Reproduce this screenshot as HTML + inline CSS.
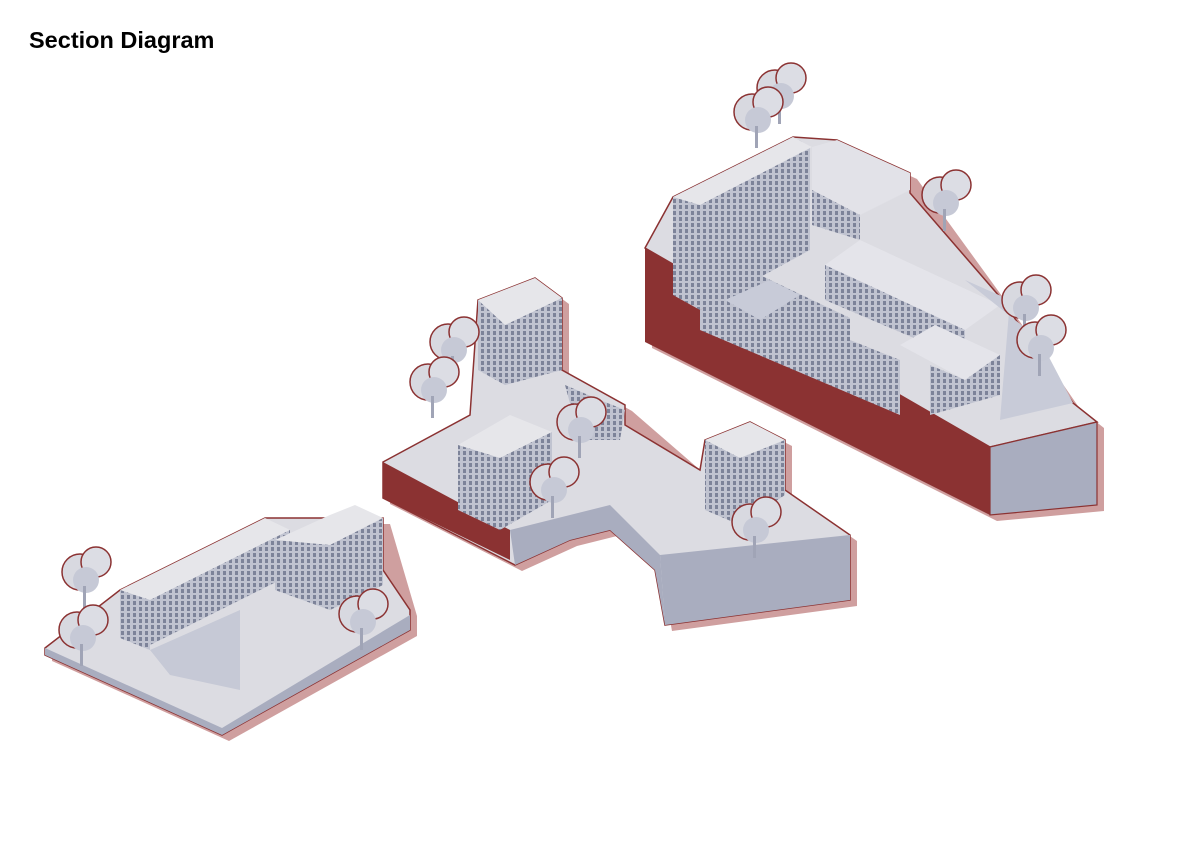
<!DOCTYPE html>
<html><head><meta charset="utf-8"><style>
body{margin:0;background:#fff;width:1191px;height:842px;overflow:hidden}
h1{position:absolute;left:29px;top:27px;margin:0;font:bold 23.5px "Liberation Sans",sans-serif;color:#000}
svg{position:absolute;left:0;top:0}
</style></head><body>
<h1>Section Diagram</h1>
<svg width="1191" height="842" viewBox="0 0 1191 842">
<defs>
<pattern id="win" width="6" height="6" patternUnits="userSpaceOnUse"><rect width="6" height="6" fill="#c0c3d0"/><rect x="1" y="1" width="3" height="4" fill="#7d8399"/></pattern>
<g id="tree"><circle cx="0" cy="0" r="18" fill="#d8d9e0" stroke="#8b3232" stroke-width="1.5"/><circle cx="16" cy="-10" r="15" fill="#dcdde4" stroke="#8b3232" stroke-width="1.5"/><circle cx="6" cy="8" r="13" fill="#c6c9d6"/><rect x="3" y="14" width="3" height="22" fill="#a0a4b6"/></g>
</defs>
<g fill="#cf9f9f" transform="translate(7,6)">
<polygon points="45,648 120,590 265,518 383,518 410,610 410,630 222,735 45,655"/>
<polygon points="383,462 470,415 478,300 535,278 562,298 562,370 625,405 700,470 750,422 785,440 785,490 850,535 850,600 665,625 655,570 610,530 570,540 515,565 383,498"/>
<polygon points="645,248 673,197 793,137 837,140 910,173 1000,297 1073,403 1097,422 1097,505 990,515 645,342"/>
</g>
<polygon points="645,248 673,197 793,137 837,140 910,173 910,193 1000,297 1073,403 1097,422 990,447 645,248" fill="#dcdce2" stroke="#8b3232" stroke-width="1.5"/>
<polygon points="645,248 990,447 990,515 645,342" fill="#8b3232"/>
<polygon points="990,447 1097,422 1097,505 990,515" fill="#a9adbf" stroke="#8b3232" stroke-width="1.2"/>
<polygon points="673,197 793,137 810,146 810,250 700,310 673,295" fill="url(#win)"/>
<polygon points="673,197 793,137 812,147 700,205" fill="#e6e6ea"/>
<polygon points="812,147 837,140 910,173 910,190 860,215 812,190" fill="#e2e2e8"/>
<polygon points="812,190 860,215 860,240 812,225" fill="url(#win)"/>
<polygon points="700,310 760,275 850,318 850,340 900,360 900,415 700,330" fill="url(#win)"/>
<polygon points="725,300 770,280 800,295 760,320" fill="#c8cbd8"/>
<polygon points="825,265 860,240 1000,305 965,330" fill="#e4e4ea"/>
<polygon points="825,265 965,330 965,360 825,300" fill="url(#win)"/>
<polygon points="900,345 935,325 1000,355 965,380" fill="#e4e4ea"/>
<polygon points="930,365 965,380 1000,355 1000,395 930,415" fill="url(#win)"/>
<polygon points="965,280 1040,340 1073,403 1000,420 1010,300" fill="#c8cbd8"/>
<use href="#tree" x="775" y="88"/><use href="#tree" x="752" y="112"/><use href="#tree" x="940" y="195"/><use href="#tree" x="1020" y="300"/><use href="#tree" x="1035" y="340"/>
<polygon points="383,462 470,415 478,300 535,278 562,298 562,370 625,405 625,425 700,470 705,440 750,422 785,440 785,490 850,535 850,600 665,625 655,570 610,530 570,540 515,565 383,498" fill="#dcdce2" stroke="#8b3232" stroke-width="1.5"/>
<polygon points="383,462 510,530 510,560 383,498" fill="#8b3232"/>
<polygon points="510,530 570,515 610,505 660,555 665,625 655,570 610,530 570,540 515,565" fill="#a9adbf"/>
<polygon points="660,555 850,535 850,600 665,625" fill="#a9adbf"/>
<polygon points="478,300 535,278 562,298 505,325" fill="#e6e6ea"/>
<polygon points="478,300 505,325 505,385 478,370" fill="url(#win)"/>
<polygon points="505,325 562,298 562,370 505,385" fill="url(#win)"/>
<polygon points="458,445 510,415 552,432 500,458" fill="#e6e6ea"/>
<polygon points="458,445 500,458 500,530 458,510" fill="url(#win)"/>
<polygon points="500,458 552,432 552,500 500,530" fill="url(#win)"/>
<polygon points="705,440 750,422 785,440 740,458" fill="#e6e6ea"/>
<polygon points="705,440 740,458 740,525 705,510" fill="url(#win)"/>
<polygon points="740,458 785,440 785,495 740,525" fill="url(#win)"/>
<polygon points="565,385 600,400 625,410 620,440 580,440" fill="url(#win)"/>
<use href="#tree" x="448" y="342"/><use href="#tree" x="428" y="382"/><use href="#tree" x="575" y="422"/><use href="#tree" x="548" y="482"/><use href="#tree" x="750" y="522"/>
<polygon points="45,648 120,590 265,518 383,518 383,570 410,610 410,630 222,735 45,655" fill="#dcdce2" stroke="#8b3232" stroke-width="1.5"/>
<polygon points="45,648 222,728 222,735 45,655" fill="#a9adbf"/>
<polygon points="222,728 410,615 410,630 222,735" fill="#a9adbf"/>
<polygon points="120,590 265,518 290,530 150,600" fill="#e6e6ea"/>
<polygon points="120,590 150,600 150,650 120,638" fill="url(#win)"/>
<polygon points="150,600 290,530 290,575 150,645" fill="url(#win)"/>
<polygon points="150,650 240,610 240,690 170,675" fill="#c6c9d6"/>
<polygon points="275,540 330,515 355,505 383,518 330,545" fill="#e6e6ea"/>
<polygon points="275,540 330,545 330,610 275,590" fill="url(#win)"/>
<polygon points="330,545 383,518 383,585 330,610" fill="url(#win)"/>
<use href="#tree" x="80" y="572"/><use href="#tree" x="77" y="630"/><use href="#tree" x="357" y="614"/>
</svg>
</body></html>
